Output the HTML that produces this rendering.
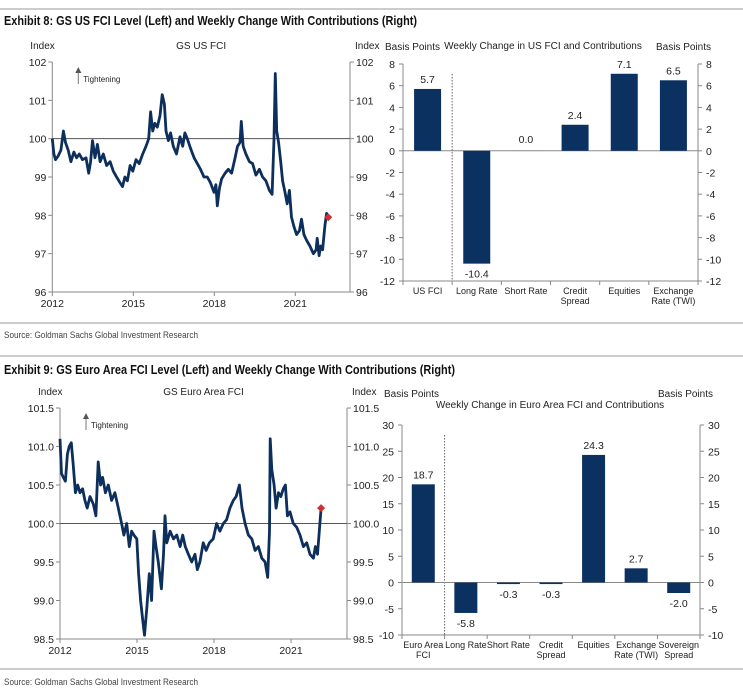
<!DOCTYPE html>
<html><head><meta charset="utf-8">
<style>
body{margin:0;background:#fff;width:743px;height:695px;overflow:hidden;font-family:"Liberation Sans",sans-serif;}
svg{position:absolute;left:0;top:0}
</style></head>
<body>
<svg id="s" width="743" height="695" font-family="Liberation Sans, sans-serif"></svg>
<script>
// US FCI level
const usDates=[2012.00,2012.06,2012.12,2012.22,2012.32,2012.41,2012.49,2012.59,2012.69,2012.80,2012.90,2013.00,2013.12,2013.25,2013.35,2013.42,2013.49,2013.58,2013.67,2013.77,2013.89,2014.01,2014.14,2014.26,2014.38,2014.51,2014.60,2014.69,2014.78,2014.88,2014.98,2015.10,2015.22,2015.35,2015.47,2015.57,2015.64,2015.72,2015.80,2015.89,2015.99,2016.07,2016.15,2016.21,2016.30,2016.38,2016.48,2016.60,2016.73,2016.83,2016.91,2017.00,2017.12,2017.25,2017.37,2017.49,2017.62,2017.74,2017.86,2017.99,2018.06,2018.11,2018.19,2018.27,2018.40,2018.52,2018.64,2018.77,2018.86,2018.95,2019.00,2019.07,2019.17,2019.30,2019.42,2019.54,2019.67,2019.79,2019.91,2020.04,2020.14,2020.21,2020.26,2020.31,2020.38,2020.46,2020.53,2020.62,2020.70,2020.78,2020.86,2020.95,2021.05,2021.15,2021.23,2021.32,2021.42,2021.54,2021.67,2021.77,2021.81,2021.88,2021.94,2022.01,2022.10,2022.16,2022.22];
const usValues=[100.0,99.6,99.45,99.55,99.7,100.2,99.9,99.7,99.4,99.65,99.5,99.6,99.45,99.5,99.1,99.4,99.95,99.5,99.85,99.4,99.6,99.3,99.4,99.15,99.0,98.85,98.75,99.0,98.9,99.3,99.15,99.45,99.35,99.6,99.8,100.0,100.7,100.2,100.4,100.3,100.6,101.15,100.9,100.2,99.95,100.15,99.8,99.6,100.05,99.8,100.15,100.0,99.75,99.5,99.35,99.2,99.0,99.0,98.85,98.6,98.8,98.25,98.7,98.95,99.1,99.2,99.1,99.5,99.8,99.9,100.45,99.8,99.6,99.4,99.35,99.05,99.2,99.0,98.9,98.65,98.55,100.0,101.7,100.2,99.9,99.4,98.9,98.6,98.3,98.65,97.95,97.7,97.5,97.6,97.9,97.5,97.35,97.2,97.0,97.1,97.4,96.95,97.2,97.1,97.75,98.05,97.95];
const usYTicks=[96,97,98,99,100,101,102];
// Euro FCI level
const euDates=[2012.00,2012.06,2012.13,2012.21,2012.29,2012.36,2012.44,2012.52,2012.60,2012.69,2012.78,2012.88,2012.97,2013.06,2013.17,2013.30,2013.40,2013.49,2013.58,2013.66,2013.77,2013.88,2014.01,2014.14,2014.27,2014.40,2014.49,2014.60,2014.70,2014.79,2014.88,2014.99,2015.06,2015.14,2015.22,2015.29,2015.38,2015.48,2015.57,2015.66,2015.74,2015.83,2015.95,2016.03,2016.09,2016.16,2016.29,2016.42,2016.55,2016.68,2016.78,2016.88,2017.00,2017.13,2017.26,2017.35,2017.45,2017.58,2017.69,2017.82,2017.97,2018.10,2018.23,2018.36,2018.49,2018.62,2018.75,2018.86,2018.99,2019.09,2019.21,2019.34,2019.47,2019.60,2019.73,2019.86,2019.99,2020.09,2020.16,2020.19,2020.25,2020.34,2020.42,2020.51,2020.60,2020.70,2020.78,2020.86,2020.96,2021.09,2021.22,2021.35,2021.48,2021.61,2021.74,2021.87,2021.95,2022.03,2022.10,2022.17];
const euValues=[101.1,100.65,100.6,100.55,100.9,101.0,101.05,100.75,100.4,100.5,100.4,100.45,100.3,100.2,100.35,100.25,100.1,100.8,100.5,100.6,100.4,100.5,100.3,100.4,100.2,100.0,99.85,100.0,99.7,99.9,99.85,99.8,99.35,99.0,98.75,98.55,98.9,99.35,99.0,99.9,99.7,99.5,99.15,99.6,100.1,99.75,99.9,99.8,99.85,99.7,99.85,99.7,99.6,99.5,99.6,99.4,99.5,99.75,99.65,99.75,99.8,100.0,99.9,100.0,100.05,100.2,100.3,100.35,100.5,100.2,100.0,99.85,99.8,99.65,99.7,99.55,99.5,99.3,99.9,101.1,100.7,100.5,100.2,100.4,100.35,100.45,100.5,100.1,100.15,100.0,99.95,99.85,99.7,99.75,99.6,99.55,99.7,99.6,99.9,100.2];
const euYTicks=[98.5,99.0,99.5,100.0,100.5,101.0,101.5];
const yearTicks=[2012,2015,2018,2021];
// Bar charts
const usCats=[["US FCI"],["Long Rate"],["Short Rate"],["Credit","Spread"],["Equities"],["Exchange","Rate (TWI)"]];
const usBars=[5.7,-10.4,0.0,2.4,7.1,6.5];
const usBarTicks=[-12,-10,-8,-6,-4,-2,0,2,4,6,8];
const euCats=[["Euro Area","FCI"],["Long Rate"],["Short Rate"],["Credit","Spread"],["Equities"],["Exchange","Rate (TWI)"],["Sovereign","Spread"]];
const euBars=[18.7,-5.8,-0.3,-0.3,24.3,2.7,-2.0];
const euBarTicks=[-10,-5,0,5,10,15,20,25,30];

const NS="http://www.w3.org/2000/svg";
const S=document.getElementById('s');
function el(tag,attrs,parent,txt){const e=document.createElementNS(NS,tag);for(const k in attrs)e.setAttribute(k,attrs[k]);if(txt!==undefined)e.textContent=txt;(parent||S).appendChild(e);return e;}
function txt(x,y,s,size,anchor,parent,fill,weight){return el('text',{x:x,y:y,'font-size':size,'text-anchor':anchor||'start',fill:fill||'#000','font-weight':weight||'normal'},parent,s);}
function squeeze(e,len){e.setAttribute('textLength',len);e.setAttribute('lengthAdjust','spacingAndGlyphs');}

let t;
el('line',{x1:0,y1:9,x2:743,y2:9,stroke:'#bbb','stroke-width':1.5});
t=txt(4,25,'Exhibit 8: GS US FCI Level (Left) and Weekly Change With Contributions (Right)',12.5,'start',null,'#111','bold');
squeeze(t,413);


el('line',{x1:0,y1:323,x2:743,y2:323,stroke:'#bbb','stroke-width':1.5});
t=txt(4,338,'Source: Goldman Sachs Global Investment Research',9,'start',null,'#444');
squeeze(t,194);


el('line',{x1:0,y1:356,x2:743,y2:356,stroke:'#bbb','stroke-width':1.5});
t=txt(4,374,'Exhibit 9: GS Euro Area FCI Level (Left) and Weekly Change With Contributions (Right)',12.5,'start',null,'#111','bold');
squeeze(t,451);


el('line',{x1:0,y1:669,x2:743,y2:669,stroke:'#bbb','stroke-width':1.5});
t=txt(4,685,'Source: Goldman Sachs Global Investment Research',9,'start',null,'#444');
squeeze(t,194);



function lineChart(o){
  const g=el('g',{});
  
  
  const xS=v=>o.x0+(v-2012)*o.pxYear;
  const yS=v=>o.yTop+(o.yMax-v)/(o.yMax-o.yMin)*(o.yBot-o.yTop);
  el('line',{x1:o.x0,y1:o.yTop,x2:o.x0,y2:o.yBot,stroke:'#888'},g);
  el('line',{x1:o.xR,y1:o.yTop,x2:o.xR,y2:o.yBot,stroke:'#888'},g);
  el('line',{x1:o.x0,y1:o.yBot,x2:o.xR,y2:o.yBot,stroke:'#888'},g);
  o.yTicks.forEach(v=>{
    const y=yS(v);
    el('line',{x1:o.x0-4,y1:y,x2:o.x0,y2:y,stroke:'#888'},g);
    el('line',{x1:o.xR,y1:y,x2:o.xR+4,y2:y,stroke:'#888'},g);
    const lab=o.dec?v.toFixed(1):String(v);
    const a=txt(o.x0-6,y+4,lab,10.5,'end',g,'#222');
    
    
    const b=txt(o.xR+6,y+4,lab,10.5,'start',g,'#222');
    
    
  });
  yearTicks.forEach(v=>{
    const x=xS(v);
    el('line',{x1:x,y1:o.yBot,x2:x,y2:o.yBot+4,stroke:'#888'},g);
    const a=txt(x,o.yBot+15,String(v),10.5,'middle',g,'#222');
    
    
  });
  const r=el('line',{x1:o.x0,y1:yS(100),x2:o.xR,y2:yS(100),stroke:'#555','stroke-width':1},g);
  
  
  let a=txt(o.x0-22,o.labY,'Index',10,'start',g,'#222');
  
  
  a=txt(o.xR+5,o.labY,'Index',10,'start',g,'#222');
  
  
  a=txt((o.x0+o.xR)/2,o.labY,o.title,10,'middle',g,'#222');
  
  
  const ax=o.x0+26;
  el('line',{x1:ax,y1:o.yTop+22,x2:ax,y2:o.yTop+10,stroke:'#777'},g);
  el('path',{d:`M${ax-3},${o.yTop+11} L${ax},${o.yTop+5} L${ax+3},${o.yTop+11}Z`,fill:'#555'},g);
  a=txt(ax+5,o.yTop+20,'Tightening',8,'start',g,'#222');
  
  
  let d='';
  o.dates.forEach((v,i)=>{d+=(i?'L':'M')+xS(v).toFixed(1)+','+yS(o.values[i]).toFixed(1);});
  const p=el('path',{d:d,fill:'none',stroke:'#0d2f5c','stroke-width':2.8,'stroke-linejoin':'round'},g);
  
  
  const lx=xS(o.dates[o.dates.length-1]),ly=yS(o.values[o.values.length-1]);
  const m=el('path',{d:`M${lx},${ly-4}L${lx+4},${ly}L${lx},${ly+4}L${lx-4},${ly}Z`,fill:'#d0312d'},g);
  
  
}

function barChart(o){
  const g=el('g',{});
  
  
  const yS=v=>o.yTop+(o.yMax-v)/(o.yMax-o.yMin)*(o.yBot-o.yTop);
  const n=o.cats.length,w=(o.xR-o.x0)/n;
  el('line',{x1:o.x0,y1:o.yTop,x2:o.x0,y2:o.yBot,stroke:'#888'},g);
  el('line',{x1:o.xR,y1:o.yTop,x2:o.xR,y2:o.yBot,stroke:'#888'},g);
  el('line',{x1:o.x0,y1:o.yBot,x2:o.xR,y2:o.yBot,stroke:'#888'},g);
  o.ticks.forEach(v=>{
    const y=yS(v);
    el('line',{x1:o.x0-4,y1:y,x2:o.x0,y2:y,stroke:'#888'},g);
    el('line',{x1:o.xR,y1:y,x2:o.xR+4,y2:y,stroke:'#888'},g);
    let a=txt(o.x0-8,y+4,String(v),10.5,'end',g,'#222');
    
    
    a=txt(o.xR+8,y+4,String(v),10.5,'start',g,'#222');
    
    
  });
  for(let i=0;i<=n;i++){el('line',{x1:o.x0+i*w,y1:o.yBot,x2:o.x0+i*w,y2:o.yBot+4,stroke:'#888'},g);}
  el('line',{x1:o.x0+w,y1:o.yTop+10,x2:o.x0+w,y2:o.yBot,stroke:'#666','stroke-dasharray':'1.5,1.5'},g);
  el('line',{x1:o.x0,y1:yS(0),x2:o.xR,y2:yS(0),stroke:'#888'},g);
  o.vals.forEach((v,i)=>{
    const cx=o.x0+(i+0.5)*w;
    const y0=yS(0),y1=yS(v);
    const b=el('rect',{x:cx-o.bw/2,y:Math.min(y0,y1),width:o.bw,height:Math.max(Math.abs(y1-y0),0.01),fill:'#0b3160'},g);
    
    
    const ly=v>=0?y1-6:y1+14;
    const lab=txt(cx,v===0?y0-8:ly,v.toFixed(1),10.5,'middle',g,'#222');
    
    
    o.cats[i].forEach((s,j)=>{
      const c=txt(cx,o.yBot+13+j*10,s,9,'middle',g,'#222');
      
      
    });
  });
  let a=txt(o.x0-18,o.labY,'Basis Points',10,'start',g,'#222');
  
  
  a=txt(o.xR+13,o.labY,'Basis Points',10,'end',g,'#222');
  
  
  a=txt(o.titleX,o.titleY,o.title,10,'middle',g,'#222');
  
  
}

lineChart({name:'us-fci-line-chart',x0:52.3,xR:350,pxYear:27,yTop:62,yBot:292,yMin:96,yMax:102,yTicks:usYTicks,dates:usDates,values:usValues,title:'GS US FCI',labY:49,dec:false});
lineChart({name:'euro-fci-line-chart',x0:60,xR:347,pxYear:25.67,yTop:408,yBot:639,yMin:98.5,yMax:101.5,yTicks:euYTicks,dates:euDates,values:euValues,title:'GS Euro Area FCI',labY:395,dec:true});
barChart({name:'us-contributions-bar-chart',x0:403,xR:698,yTop:64,yBot:281,yMin:-12,yMax:8,ticks:usBarTicks,cats:usCats,vals:usBars,bw:27,title:'Weekly Change in US FCI and Contributions',titleX:543,titleY:49,labY:50});
barChart({name:'euro-contributions-bar-chart',x0:402,xR:700,yTop:425,yBot:635,yMin:-10,yMax:30,ticks:euBarTicks,cats:euCats,vals:euBars,bw:23,title:'Weekly Change in Euro Area FCI and Contributions',titleX:550,titleY:408,labY:397});
</script>
</body></html>
